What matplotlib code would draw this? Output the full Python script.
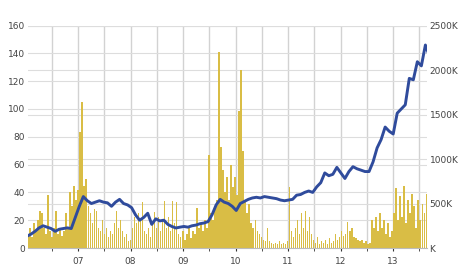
import numpy as np
import pandas as pd
import matplotlib
matplotlib.use('Agg')
import matplotlib.pyplot as plt
import matplotlib.dates as mdates
from matplotlib.ticker import FuncFormatter

# volume, thousands of shares, one bar per two weeks
volume_k = [
    160, 230, 125, 280, 190, 310, 420, 390, 220, 160,
    595, 190, 125, 220, 420, 160, 230, 140, 190, 390,
    220, 625, 470, 700, 545, 655, 1300, 1640, 700, 780,
    470, 390, 280, 440, 420, 230, 190, 310, 160, 220,
    125, 190, 160, 280, 420, 230, 310, 190, 125, 160,
    80, 95, 230, 345, 280, 390, 310, 515, 190, 160,
    220, 125, 280, 405, 230, 345, 190, 310, 530, 230,
    345, 190, 530, 280, 515, 160, 125, 190, 95, 160,
    230, 110, 190, 160, 450, 220, 280, 190, 310, 230,
    1045, 390, 310, 470, 545, 2200, 1140, 875, 625, 795,
    545, 935, 690, 795, 595, 1545, 2000, 1095, 530, 390,
    500, 280, 230, 310, 190, 160, 125, 95, 80, 230,
    80, 60, 50, 60, 50, 80, 50, 60, 50, 80,
    690, 190, 125, 220, 310, 160, 390, 220, 420, 190,
    345, 160, 95, 60, 125, 50, 80, 60, 95, 50,
    110, 60, 80, 160, 95, 125, 190, 140, 160, 295,
    190, 230, 125, 110, 95, 80, 95, 60, 80, 50,
    60, 310, 230, 345, 190, 390, 230, 310, 160, 280,
    125, 190, 390, 670, 310, 580, 345, 700, 280, 545,
    390, 610, 470, 230, 545, 310, 500, 390, 610, 470,
]

# closing price, one point per four weeks
price = [
    8.5, 10, 12, 14.5, 16, 15, 14, 12, 13.5, 14,
    14.5, 14, 22, 30, 37, 34, 32, 33, 34, 33,
    32.5, 30, 33, 35, 32, 31, 29, 23.7, 20, 22,
    25, 17, 21, 19.5, 20, 17, 15.5, 14.4, 15, 15.5,
    15, 16, 16.5, 17.5, 18, 19, 24, 31, 35, 33,
    32, 30, 27, 32, 33.5, 35, 36, 36.5, 36, 37,
    36.5, 36, 35.5, 34.5, 34, 34.5, 35, 38, 38.5, 40,
    41, 40, 44, 47, 54, 52, 53, 58, 54, 50,
    55, 58.5, 57, 56, 55, 55, 62, 72, 78, 87,
    84, 82, 97, 100, 103, 122, 121, 134, 131, 146,
    138,
]

vol_dates = pd.date_range('2006-01-16', periods=len(volume_k), freq='14D')
price_dates = pd.date_range('2006-01-10', periods=len(price), freq='28D')
# vertical grid every half year
grid_dates = pd.date_range('2006-07-01', '2013-07-01', freq='6MS')

fig = plt.figure(figsize=(4.65, 2.69), dpi=100)
# volume axes underneath (ticks on the right), price axes on top (ticks on the left)
axv = fig.add_axes([0.0596, 0.078, 0.858, 0.827])
axp = axv.twinx()

grid_c = '#dddddd'
text_c = '#444444'

axv.vlines(grid_dates, 0, 2500, color='#d2d2d2', linewidth=1.0, zorder=0.5)
axv.bar(vol_dates, volume_k, width=10, color='#d9bd45', linewidth=0, zorder=2)
axv.set_ylim(0, 2500)
axv.set_yticks(np.arange(0, 2501, 500))
axv.yaxis.set_major_formatter(FuncFormatter(lambda v, p: 'K' if v == 0 else '%dK' % v))
axv.yaxis.tick_right()

axv.set_xlim(pd.Timestamp('2006-01-15'), pd.Timestamp('2013-08-22'))
axv.xaxis.set_major_locator(mdates.YearLocator())
axv.xaxis.set_major_formatter(mdates.DateFormatter('%y'))
axv.xaxis.set_minor_locator(mdates.MonthLocator(bymonth=7))

for v in axv.get_yticks():
    axv.axhline(v, color=grid_c, linewidth=0.8, zorder=0.5)

axp.plot(price_dates, price, color='#2f4b9c', linewidth=2.1, zorder=3)
axp.set_ylim(0, 160)
axp.set_yticks(np.arange(0, 161, 20))
axp.yaxis.tick_left()
for v in axp.get_yticks():
    axv.axhline(v * 2500 / 160, color=grid_c, linewidth=0.8, zorder=0.5)

for a in (axv, axp):
    for s in a.spines.values():
        s.set_visible(False)
    a.tick_params(axis='y', length=0, labelsize=6.5, labelcolor=text_c, pad=2)
axv.spines['bottom'].set_visible(True)
axv.spines['bottom'].set_color('#bbbbbb')
axv.tick_params(axis='x', which='both', length=2.5, color='#333333',
                labelsize=6.5, labelcolor=text_c, pad=4)

fig.savefig('out.png', dpi=100)
